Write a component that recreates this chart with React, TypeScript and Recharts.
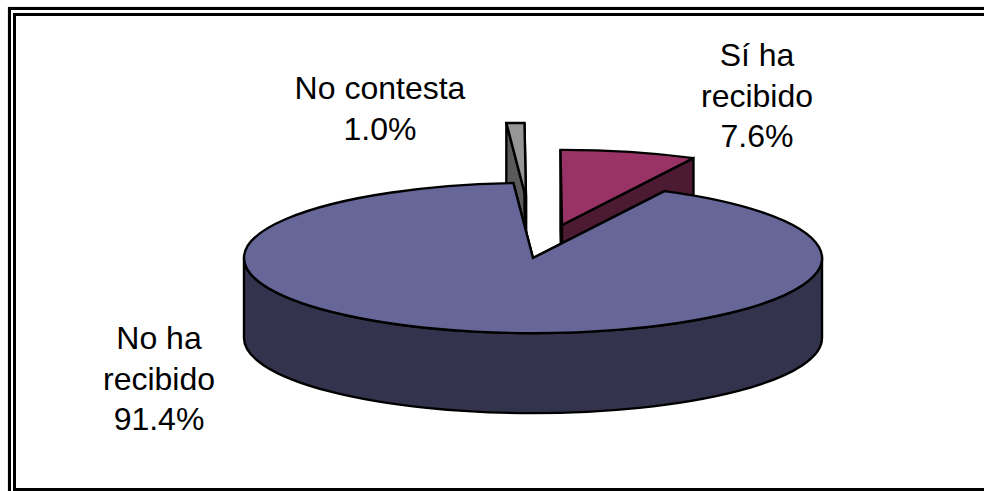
import { PieChart, Pie } from "recharts";

// draw order matters: the big slice has to go last so it covers the other two
const sliceNames = ["No contesta", "Sí ha recibido", "No ha recibido"];
const sliceValues = [1.0, 7.6, 91.4];
const labelLines: Record<string, string[]> = {
  "No contesta": ["No contesta"],
  "Sí ha recibido": ["Sí ha", "recibido"],
  "No ha recibido": ["No ha", "recibido"],
};

const topColors: Record<string, string> = {
  "No contesta": "#969696",
  "Sí ha recibido": "#993366",
  "No ha recibido": "#666699",
};
const sideColors: Record<string, string> = {
  "No contesta": "#5a5a5a",
  "Sí ha recibido": "#4d1a33",
  "No ha recibido": "#33334d",
};

// pulled-out slices, in px from the pie centre
const explode: Record<string, [number, number]> = {
  "No contesta": [-7, -60],
  "Sí ha recibido": [29, -33],
  "No ha recibido": [0, 0],
};
const labelPos: Record<string, [number, number]> = {
  "No contesta": [380, 99],
  "Sí ha recibido": [757, 66],
  "No ha recibido": [159, 349],
};

const TILT = 0.26;
const DEPTH = 80;
const rad = Math.PI / 180;

const data = sliceNames.map((name, i) => ({ name, value: sliceValues[i] }));

function Slice3D(props: any) {
  const { cx, cy, outerRadius, startAngle, endAngle, name } = props;
  const rx = outerRadius;
  const ry = outerRadius * TILT;
  const [dx, dy] = explode[name];
  const ax = cx + dx;
  const ay = cy + dy;
  const pt = (a: number, down = 0) => [
    ax + rx * Math.cos(a * rad),
    ay - ry * Math.sin(a * rad) + down,
  ];
  const [sx, sy] = pt(startAngle);
  const [ex, ey] = pt(endAngle);
  const large = Math.abs(startAngle - endAngle) > 180 ? 1 : 0;
  const top = `M${ax},${ay} L${sx},${sy} A${rx},${ry} 0 ${large} 1 ${ex},${ey} Z`;
  const cut1 = `M${ax},${ay} L${sx},${sy} v${DEPTH} L${ax},${ay + DEPTH} Z`;
  const cut2 = `M${ax},${ay} L${ex},${ey} v${DEPTH} L${ax},${ay + DEPTH} Z`;

  // outer wall only shows on the front half
  const hi = Math.min(startAngle, 0);
  const lo = Math.max(endAngle, -180);
  let wall = "";
  if (hi > lo) {
    const [x1, y1] = pt(hi);
    const [x2, y2] = pt(lo);
    wall = `M${x1},${y1} A${rx},${ry} 0 0 1 ${x2},${y2} v${DEPTH} A${rx},${ry} 0 0 0 ${x1},${y1 + DEPTH} Z`;
  }
  const line = { stroke: "#000", strokeWidth: 2.4, strokeLinejoin: "miter" as const, strokeMiterlimit: 3 };
  return (
    <g>
      <path d={cut1} fill={sideColors[name]} {...line} />
      <path d={cut2} fill={sideColors[name]} {...line} />
      {wall && <path d={wall} fill={sideColors[name]} {...line} />}
      <path d={top} fill={topColors[name]} {...line} />
    </g>
  );
}

function renderLabel(props: any) {
  const { name, value } = props;
  const [x, y] = labelPos[name];
  const lines = [...labelLines[name], `${value.toFixed(1)}%`];
  return (
    <text x={x} y={y} textAnchor="middle" fontFamily="'Liberation Sans', Arial, sans-serif" fontSize={32} fill="#000">
      {lines.map((l, i) => (
        <tspan key={i} x={x} y={y + i * 40.5}>{l}</tspan>
      ))}
    </text>
  );
}

export default function App() {
  return (
    <div style={{ position: "fixed", left: 0, top: 0, width: 984, height: 491, background: "#fff", overflow: "hidden" }}>
      {/* double frame, the right side is cut off in the original */}
      <div style={{ position: "absolute", left: 8, top: 7, width: 990, height: 500, borderTop: "3px solid #000", borderLeft: "3px solid #000", boxShadow: "0 0 1px #888" }} />
      <div style={{ position: "absolute", left: 13, top: 13, width: 990, height: 472, borderTop: "3px solid #000", borderLeft: "3px solid #000", borderBottom: "3px solid #000", background: "#fff" }} />
      <div style={{ position: "absolute", left: 0, top: 0 }}>
        <PieChart width={984} height={491} margin={{ top: 0, right: 0, bottom: 0, left: 0 }}>
          <Pie
            data={data}
            dataKey="value"
            nameKey="name"
            cx={533}
            cy={258}
            innerRadius={0}
            outerRadius={289}
            startAngle={93.9}
            endAngle={-266.1}
            shape={Slice3D}
            label={renderLabel}
            labelLine={false}
            isAnimationActive={false}
            rootTabIndex={-1}
          />
        </PieChart>
      </div>
    </div>
  );
}
